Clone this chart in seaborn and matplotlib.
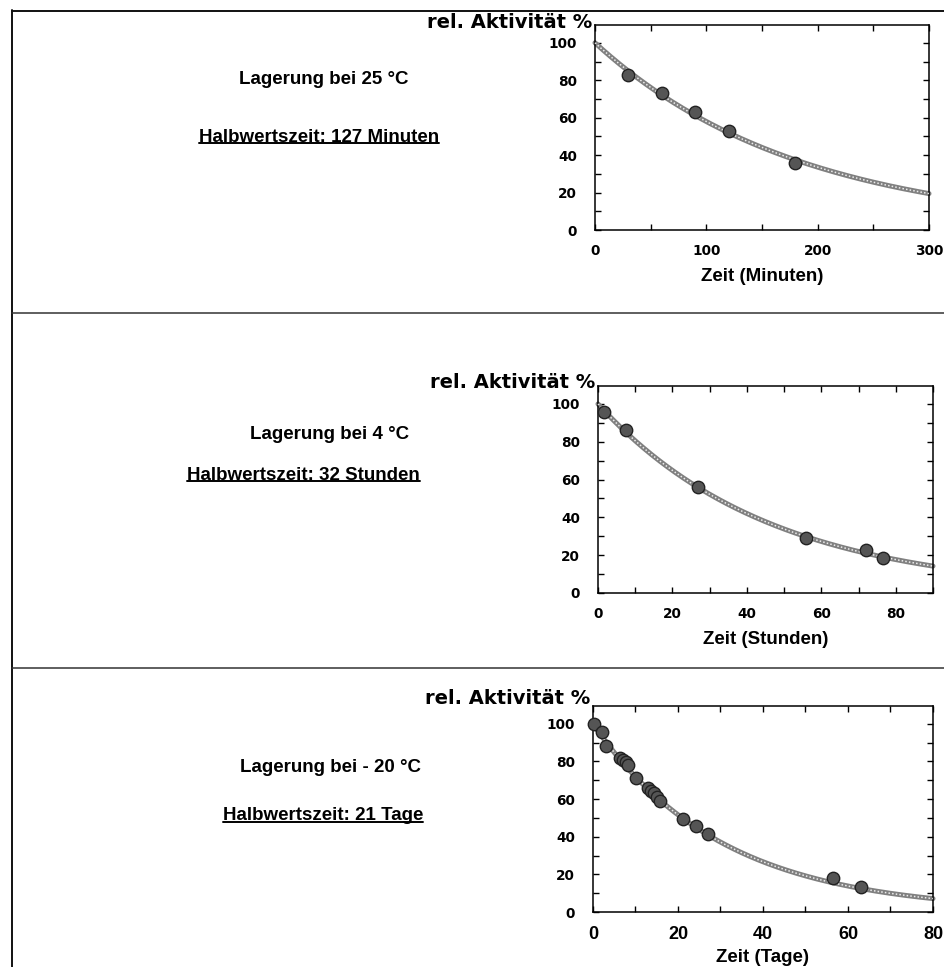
import matplotlib
matplotlib.use('Agg')
import matplotlib.pyplot as plt
import seaborn as sns
import pandas as pd
import numpy as np
from matplotlib.lines import Line2D
from matplotlib.ticker import MultipleLocator

# ============================
# Data
# ============================

# storage at 25 °C, time in minutes
t_25 = [30, 60, 90, 120, 180]
act_25 = [83, 73, 63, 53, 36]

# storage at 4 °C, time in hours
t_4 = [1.5, 7.5, 27, 56, 72, 76.5]
act_4 = [96, 86, 56, 29, 23, 18.5]

# storage at -20 °C, time in days
t_m20 = [0.2, 2.2, 3.1, 6.3, 7.0, 7.8, 8.3, 10.2, 12.9, 13.6, 14.3, 15.0,
         15.8, 21.2, 24.2, 27.1, 56.5, 63.1]
act_m20 = [100, 95.5, 88.5, 82, 81, 79.5, 78, 71, 66, 64.5, 63, 61,
           59, 49.5, 45.5, 41.5, 18.2, 13.5]

temps = ['25 °C', '4 °C', '- 20 °C']
half_lives = [127, 32, 21]
units = ['Minuten', 'Stunden', 'Tage']
x_max = [300, 90, 80]
x_major = [100, 20, 20]
x_minor = [50, 10, 10]

times = [t_25, t_4, t_m20]
acts = [act_25, act_4, act_m20]

# ============================
# Plotting
# ============================

sns.set_style('ticks')
plt.rcParams['font.family'] = ['Liberation Sans', 'DejaVu Sans']
plt.rcParams['text.color'] = 'black'
plt.rcParams['xtick.color'] = 'black'
plt.rcParams['ytick.color'] = 'black'
plt.rcParams['axes.edgecolor'] = 'black'

W, H = 945, 967
fig = plt.figure(figsize=(W / 100, H / 100), dpi=100)


def fx(px):
    return px / W


def fy(py):
    return 1 - py / H


# axes boxes in pixels: left, top, right, bottom
boxes = [(595, 25, 929, 230), (598, 386, 933, 593), (593, 706, 933, 912)]
ylabel_y = [22, 382, 699]
xlabel_y = [277, 640, 958]
lager_pos = [(239, 79), (250, 435), (240, 767)]
halb_pos = [(199, 137), (187, 475), (223, 816)]

txt_font = dict(family='Liberation Sans', weight='bold', size=13.5)

for i in range(3):
    l, t, r, b = boxes[i]
    ax = fig.add_axes([fx(l), fy(b), fx(r - l), (b - t) / H])

    df_pts = pd.DataFrame({'Zeit': times[i], 'Aktivitaet': acts[i]})
    tt = np.linspace(0, x_max[i], 300)
    df_fit = pd.DataFrame({'Zeit': tt,
                           'Aktivitaet': 100 * 0.5 ** (tt / half_lives[i])})

    # fitted first-order decay, textured grey band
    sns.lineplot(data=df_fit, x='Zeit', y='Aktivitaet', ax=ax,
                 color='#808080', lw=3.6, zorder=2, clip_on=False)
    sns.lineplot(data=df_fit, x='Zeit', y='Aktivitaet', ax=ax,
                 color='white', lw=1.1, ls=(0, (1, 1.4)), alpha=0.85,
                 zorder=3, clip_on=False)
    sns.scatterplot(data=df_pts, x='Zeit', y='Aktivitaet', ax=ax,
                    s=80, color='#555555', edgecolor='#222222',
                    linewidth=1.0, zorder=4, clip_on=False)

    ax.set_xlim(0, x_max[i])
    ax.set_ylim(0, 109.5)
    ax.xaxis.set_major_locator(MultipleLocator(x_major[i]))
    ax.xaxis.set_minor_locator(MultipleLocator(x_minor[i]))
    ax.yaxis.set_minor_locator(MultipleLocator(10))
    ax.set_yticks([0, 20, 40, 60, 80, 100])
    ax.tick_params(which='both', direction='in', top=True, right=True,
                   length=4.5, width=1.0, color='black')
    ax.tick_params(axis='y', which='major', pad=13)
    ax.tick_params(axis='x', which='major', pad=10)
    for lab in ax.get_xticklabels() + ax.get_yticklabels():
        lab.set_fontfamily('DejaVu Sans')
        lab.set_fontweight('bold')
        lab.set_fontsize(9.8)
    if i == 2:
        for lab in ax.get_xticklabels():
            lab.set_fontfamily('Liberation Sans')
            lab.set_fontsize(13)
    for sp in ax.spines.values():
        sp.set_linewidth(1.1)
        sp.set_color('black')
    ax.set_xlabel('')
    ax.set_ylabel('')

    fig.text(fx(l - 3), fy(ylabel_y[i]), 'rel. Aktivität %', ha='right',
             va='center', family='DejaVu Sans', weight='bold', size=14)
    fig.text(fx((l + r) / 2), fy(xlabel_y[i]), f'Zeit ({units[i]})',
             ha='center', va='center', **txt_font)

    lx, ly = lager_pos[i]
    fig.text(fx(lx), fy(ly), f'Lagerung bei {temps[i]}', ha='left',
             va='center', **txt_font)
    hx, hy = halb_pos[i]
    ht = fig.text(fx(hx), fy(hy),
                  f'Halbwertszeit: {half_lives[i]} {units[i]}',
                  ha='left', va='center', **txt_font)
    fig.canvas.draw()
    bb = ht.get_window_extent(fig.canvas.get_renderer())
    uy = (bb.y0 + 3) / H
    fig.add_artist(Line2D([bb.x0 / W, bb.x1 / W], [uy, uy],
                          color='black', lw=1.4))

# page frame and separators
frame = dict(color='#111111', lw=1.4)
fig.add_artist(Line2D([fx(12), fx(12)], [fy(10), 0], **frame))
fig.add_artist(Line2D([fx(12), 1], [fy(11), fy(11)], **frame))
fig.add_artist(Line2D([fx(12), 1], [fy(313), fy(313)], color='#333333', lw=1.1))
fig.add_artist(Line2D([fx(12), 1], [fy(668), fy(668)], color='#333333', lw=1.1))

plt.savefig('out.png', dpi=100)
